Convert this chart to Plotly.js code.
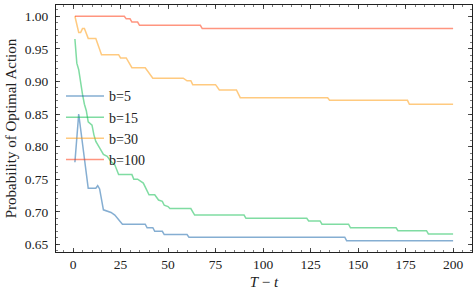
<!DOCTYPE html>
<html>
<head>
<meta charset="utf-8">
<script src="https://cdn.plot.ly/plotly-3.0.1.min.js"></script>
<style>html,body{margin:0;padding:0;background:#fff;}#chart{width:476px;height:295px;}</style>
</head>
<body>
<div id="chart"></div>
<script>
// b=5
const x_b5 = [1, 3, 8, 12, 13, 14, 16, 19, 20, 22, 24, 26, 38, 39, 42, 43, 47, 48, 60, 61, 143, 144, 200];
const y_b5 = [0.776, 0.850, 0.736, 0.736, 0.740, 0.735, 0.703, 0.700, 0.699, 0.695, 0.688, 0.681, 0.681, 0.6755, 0.6755, 0.670, 0.670, 0.665, 0.665, 0.661, 0.661, 0.6555, 0.6555];
// b=15
const x_b15 = [1, 2, 3, 4, 5, 6, 7, 8, 10, 11, 12, 14, 16, 18, 20, 22, 23, 24, 31, 32, 34, 37, 40, 43, 45, 47, 48, 50, 51, 62, 64, 90, 91, 123, 124, 130, 131, 145, 146, 170, 171, 186, 187, 200];
const y_b15 = [0.965, 0.928, 0.918, 0.895, 0.880, 0.865, 0.855, 0.838, 0.833, 0.818, 0.808, 0.798, 0.788, 0.785, 0.777, 0.772, 0.764, 0.757, 0.757, 0.750, 0.750, 0.744, 0.726, 0.726, 0.718, 0.716, 0.710, 0.708, 0.705, 0.705, 0.695, 0.695, 0.690, 0.690, 0.686, 0.686, 0.681, 0.681, 0.6755, 0.6755, 0.671, 0.671, 0.666, 0.666];
// b=30
const x_b30 = [1, 3, 4, 5, 6, 8, 12, 15, 24, 25, 28, 31, 38, 42, 58, 60, 62, 63, 75, 76, 77, 86, 88, 134, 135, 176, 177, 200];
const y_b30 = [1.000, 0.975, 0.975, 0.981, 0.981, 0.966, 0.966, 0.941, 0.941, 0.936, 0.936, 0.921, 0.921, 0.905, 0.905, 0.901, 0.901, 0.895, 0.895, 0.891, 0.887, 0.887, 0.875, 0.875, 0.871, 0.871, 0.865, 0.865];
// b=100
const x_b100 = [1, 27, 28, 30, 31, 34, 35, 67, 68, 200];
const y_b100 = [1.000, 1.000, 0.996, 0.996, 0.991, 0.991, 0.986, 0.986, 0.981, 0.981];

const seriesNames = ["b=5", "b=15", "b=30", "b=100"];
const seriesColors = ["rgba(12,93,165,0.5)", "rgba(0,185,69,0.5)", "rgba(255,149,0,0.5)", "rgba(255,44,0,0.5)"];
const xs = [x_b5, x_b15, x_b30, x_b100];
const ys = [y_b5, y_b15, y_b30, y_b100];

const FONT = "Liberation Serif, DejaVu Serif, serif";
const traces = seriesNames.map((n, i) => ({
  x: xs[i], y: ys[i], name: n, type: "scatter", mode: "lines",
  line: {color: seriesColors[i], width: 1.5}
}));

const axisCommon = {
  showline: true, linecolor: "#222", linewidth: 1, mirror: "allticks",
  ticks: "inside", ticklen: 4, tickwidth: 0.8, tickcolor: "#222",
  showgrid: false, zeroline: false,
  tickfont: {family: FONT, size: 13.5, color: "#222"}
};

const layout = {
  width: 476, height: 295,
  margin: {l: 56, r: 4, t: 5, b: 43},
  paper_bgcolor: "#fff", plot_bgcolor: "#fff",
  font: {family: FONT, color: "#222"},
  showlegend: true,
  legend: {x: 0.012, y: 0.695, xanchor: "left", yanchor: "top", bgcolor: "rgba(0,0,0,0)",
           font: {family: FONT, size: 14, color: "#222"}, itemwidth: 38, traceorder: "normal"},
  xaxis: Object.assign({}, axisCommon, {
    range: [-8.95, 209.95], tickvals: [0, 25, 50, 75, 100, 125, 150, 175, 200],
    minor: {ticks: "inside", dtick: 5, tick0: 0, ticklen: 2, tickwidth: 0.6, tickcolor: "#222"},
    title: {text: "<i>T</i> − <i>t</i>", font: {family: FONT, size: 15, color: "#222"}, standoff: 5}
  }),
  yaxis: Object.assign({}, axisCommon, {
    range: [0.6383, 1.0172], tickvals: [0.65, 0.70, 0.75, 0.80, 0.85, 0.90, 0.95, 1.00], tickformat: ".2f",
    ticklabelstandoff: 4,
    minor: {ticks: "inside", dtick: 0.01, tick0: 0, ticklen: 2, tickwidth: 0.6, tickcolor: "#222"},
    title: {text: "Probability of Optimal Action", font: {family: FONT, size: 15, color: "#222"}, standoff: 4}
  })
};

Plotly.newPlot("chart", traces, layout, {staticPlot: true, displayModeBar: false});
</script>
</body>
</html>
